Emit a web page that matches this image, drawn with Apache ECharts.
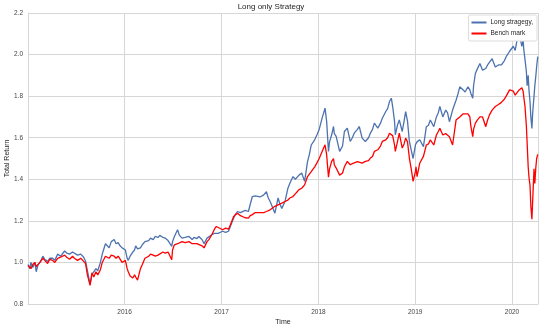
<!DOCTYPE html>
<html>
<head>
<meta charset="utf-8">
<script src="https://cdn.jsdelivr.net/npm/echarts@6/dist/echarts.min.js"></script>
<style>
  html, body { margin: 0; padding: 0; background: #fff; }
  #chart { width: 542px; height: 330px; }
</style>
</head>
<body>
<div id="chart"></div>
<script>
// Trading dates (sampled) shared by both return series
const dates = [
  '2015-01-02','2015-01-09','2015-01-13','2015-01-20','2015-01-28','2015-02-02','2015-02-09','2015-02-16','2015-02-27','2015-03-06',
  '2015-03-17','2015-03-25','2015-04-05','2015-04-13','2015-04-24','2015-05-05','2015-05-20','2015-05-28','2015-06-08','2015-06-19',
  '2015-06-26','2015-07-08','2015-07-20','2015-07-31','2015-08-07','2015-08-14','2015-08-24','2015-08-31','2015-09-07','2015-09-15',
  '2015-09-22','2015-10-02','2015-10-09','2015-10-21','2015-10-28','2015-11-04','2015-11-12','2015-11-23','2015-11-30','2015-12-08',
  '2015-12-15','2015-12-23',
  '2016-01-04','2016-01-11','2016-01-15','2016-01-22','2016-02-01','2016-02-08','2016-02-12','2016-02-19','2016-03-01','2016-03-08',
  '2016-03-18','2016-04-01','2016-04-08','2016-04-18','2016-04-26','2016-05-06','2016-05-13','2016-05-25','2016-06-02','2016-06-13',
  '2016-06-20','2016-06-27','2016-06-30','2016-07-07','2016-07-19','2016-07-26','2016-08-05','2016-08-16','2016-08-31','2016-09-12',
  '2016-09-19','2016-09-30','2016-10-07','2016-10-19','2016-10-27','2016-11-07','2016-11-14','2016-11-25','2016-12-05','2016-12-12',
  '2016-12-19',
  '2017-01-05','2017-01-16','2017-01-27','2017-02-03','2017-02-15','2017-02-22','2017-03-02','2017-03-13','2017-03-20','2017-03-31',
  '2017-04-12','2017-04-19','2017-04-27','2017-05-08','2017-05-15','2017-05-26','2017-06-02','2017-06-09','2017-06-19','2017-06-26',
  '2017-07-03','2017-07-10','2017-07-21','2017-07-28','2017-08-02','2017-08-09','2017-08-16','2017-08-28','2017-09-08','2017-09-15',
  '2017-09-27','2017-10-06','2017-10-13','2017-10-20','2017-10-30','2017-11-10','2017-11-21','2017-11-28','2017-12-05','2017-12-18',
  '2017-12-27',
  '2018-01-04','2018-01-15','2018-01-26','2018-02-01','2018-02-08','2018-02-12','2018-02-20','2018-02-27','2018-03-02','2018-03-09',
  '2018-03-22','2018-04-02','2018-04-09','2018-04-20','2018-05-01','2018-05-09','2018-05-16','2018-05-28','2018-06-04','2018-06-15',
  '2018-06-27','2018-07-09','2018-07-16','2018-07-24','2018-07-31','2018-08-13','2018-08-23','2018-08-30','2018-09-12','2018-09-19',
  '2018-09-26','2018-10-03','2018-10-08','2018-10-15','2018-10-18','2018-10-26','2018-11-02','2018-11-13','2018-11-20','2018-11-26',
  '2018-12-03','2018-12-10','2018-12-17','2018-12-24',
  '2019-01-02','2019-01-04','2019-01-08','2019-01-18','2019-02-01','2019-02-12','2019-02-20','2019-02-27','2019-03-12','2019-03-22',
  '2019-03-29','2019-04-04','2019-04-15','2019-04-26','2019-05-03','2019-05-10','2019-05-22','2019-06-04','2019-06-11','2019-06-18',
  '2019-07-01','2019-07-08','2019-07-19','2019-07-26','2019-07-30','2019-08-06','2019-08-09','2019-08-16','2019-08-23','2019-09-02',
  '2019-09-12','2019-09-24','2019-10-01','2019-10-08','2019-10-18','2019-10-30','2019-11-11','2019-11-22','2019-12-03','2019-12-10',
  '2019-12-23',
  '2020-01-06','2020-01-13','2020-01-20','2020-01-28','2020-02-04','2020-02-07','2020-02-12','2020-02-14','2020-02-19','2020-02-24',
  '2020-02-27','2020-03-02','2020-03-05','2020-03-09','2020-03-12','2020-03-16','2020-03-19','2020-03-24','2020-03-27','2020-03-31',
  '2020-04-03','2020-04-07'
];

// Cumulative total return of the long-only strategy
const strategy = [
  0.99,0.97,1.0,0.975,1.0,0.955,0.99,1.0,1.03,1.015,
  1.005,1.02,1.02,1.01,1.04,1.03,1.055,1.045,1.04,1.05,
  1.045,1.035,1.04,1.025,1.006,0.96,0.895,0.94,0.955,0.97,
  0.96,1.0,1.04,1.09,1.08,1.07,1.1,1.11,1.09,1.095,
  1.08,1.07,
  1.06,1.02,1.01,1.03,1.05,1.06,1.08,1.065,1.07,1.085,
  1.10,1.105,1.117,1.11,1.125,1.12,1.13,1.12,1.117,1.105,
  1.11,1.077,1.10,1.125,1.157,1.13,1.117,1.12,1.125,1.11,
  1.12,1.115,1.125,1.11,1.09,1.117,1.12,1.133,1.14,1.133,
  1.14,
  1.15,1.145,1.15,1.157,1.213,1.23,1.245,1.24,1.237,1.25,
  1.245,1.28,1.317,1.32,1.325,1.315,1.31,1.325,1.34,1.31,
  1.293,1.30,1.237,1.28,1.31,1.28,1.26,1.293,1.357,1.38,
  1.413,1.40,1.397,1.42,1.43,1.39,1.485,1.52,1.565,1.59,
  1.615,
  1.64,1.694,1.742,1.68,1.534,1.58,1.614,1.654,1.62,1.606,
  1.534,1.56,1.63,1.646,1.582,1.60,1.622,1.64,1.654,1.598,
  1.582,1.60,1.622,1.64,1.67,1.646,1.67,1.694,1.726,1.74,
  1.774,1.79,1.75,1.68,1.614,1.66,1.686,1.63,1.68,1.726,
  1.68,1.582,1.54,1.50,
  1.566,1.557,1.58,1.59,1.557,1.653,1.66,1.685,1.653,1.70,
  1.72,1.75,1.70,1.733,1.72,1.677,1.733,1.78,1.81,1.845,
  1.83,1.82,1.845,1.83,1.813,1.79,1.85,1.91,1.93,1.957,
  1.925,1.933,1.95,1.957,1.98,1.94,1.95,1.95,1.97,1.99,
  2.016,
  2.04,2.02,2.07,2.10,2.06,2.04,2.07,2.03,1.976,1.92,
  1.85,1.90,1.83,1.77,1.70,1.645,1.72,1.80,1.85,1.90,
  1.944,1.99
];

// Cumulative total return of the benchmark
const benchmark = [
  0.985,0.99,0.97,0.99,1.0,0.98,0.985,1.0,1.02,1.01,
  0.995,1.015,1.01,1.0,1.02,1.025,1.035,1.025,1.015,1.03,
  1.02,1.01,1.02,1.005,0.995,0.94,0.89,0.95,0.93,0.955,
  0.94,0.965,1.0,1.03,1.025,1.02,1.035,1.03,1.02,1.03,
  1.025,1.0,
  1.01,0.97,0.955,0.935,0.925,0.94,0.93,0.915,0.97,0.99,
  1.02,1.03,1.04,1.035,1.03,1.035,1.04,1.05,1.045,1.05,
  1.053,1.013,1.06,1.085,1.09,1.095,1.10,1.095,1.10,1.09,
  1.085,1.09,1.085,1.08,1.07,1.10,1.11,1.133,1.16,1.173,
  1.165,
  1.157,1.165,1.16,1.18,1.22,1.23,1.237,1.225,1.22,1.215,
  1.213,1.225,1.23,1.24,1.235,1.24,1.237,1.24,1.245,1.25,
  1.253,1.26,1.27,1.27,1.277,1.28,1.285,1.293,1.30,1.31,
  1.317,1.33,1.34,1.35,1.357,1.373,1.413,1.425,1.437,1.46,
  1.48,
  1.50,1.534,1.566,1.52,1.41,1.45,1.486,1.50,1.47,1.454,
  1.42,1.43,1.46,1.486,1.47,1.475,1.47,1.485,1.494,1.478,
  1.486,1.49,1.502,1.51,1.534,1.542,1.56,1.582,1.59,1.60,
  1.622,1.63,1.61,1.566,1.534,1.58,1.622,1.55,1.57,1.598,
  1.58,1.502,1.45,1.39,
  1.438,1.46,1.413,1.477,1.51,1.565,1.57,1.59,1.565,1.613,
  1.63,1.645,1.613,1.62,1.625,1.605,1.565,1.685,1.69,1.70,
  1.715,1.71,1.715,1.70,1.653,1.605,1.64,1.67,1.685,1.70,
  1.70,1.653,1.685,1.71,1.733,1.75,1.76,1.77,1.785,1.80,
  1.83,
  1.824,1.805,1.81,1.83,1.835,1.84,1.824,1.80,1.75,1.66,
  1.576,1.46,1.41,1.368,1.27,1.208,1.30,1.45,1.38,1.46,
  1.50,1.52
];

const yTicks = [0.8, 1.0, 1.2, 1.4, 1.6, 1.8, 2.0, 2.2];

const toPairs = vals => dates.map((d, i) => [d, vals[i]]);

const chart = echarts.init(document.getElementById('chart'), null, { renderer: 'canvas' });
const FONT = 'Liberation Sans, Arial, sans-serif';
const gridColor = '#d6d6d6';

chart.setOption({
  animation: false,
  backgroundColor: '#ffffff',
  title: {
    text: 'Long only Strategy',
    left: 'center',
    top: 3,
    padding: 0,
    textStyle: { fontFamily: FONT, fontSize: 8, fontWeight: 'normal', color: '#262626' }
  },
  legend: {
    data: ['Long stragegy,', 'Bench mark'],
    orient: 'vertical',
    right: 5,
    top: 15,
    itemWidth: 15,
    itemHeight: 2,
    itemGap: 4,
    padding: [4, 4, 4, 3],
    backgroundColor: '#ffffff',
    borderColor: '#dddddd',
    borderWidth: 1,
    borderRadius: 2,
    icon: 'rect',
    textStyle: { fontFamily: FONT, fontSize: 6.5, color: '#262626', padding: [0, 0, 0, -1] }
  },
  grid: { left: 28, right: 4, top: 13, bottom: 26, containLabel: false, outerBoundsMode: 'none' },
  xAxis: {
    type: 'time',
    min: '2015-01-02',
    max: '2020-04-08',
    name: 'Time',
    nameLocation: 'middle',
    nameGap: 15,
    nameMoveOverlap: false,
    nameTextStyle: { fontFamily: FONT, fontSize: 7, color: '#262626' },
    minInterval: 365 * 24 * 3600 * 1000,
    splitNumber: 6,
    axisLine: { show: true, lineStyle: { color: gridColor } },
    axisTick: { show: false },
    axisLabel: {
      formatter: '{yyyy}',
      fontFamily: FONT, fontSize: 6.5, color: '#444', margin: 5,
      showMinLabel: false, showMaxLabel: false
    },
    splitLine: { show: true, lineStyle: { color: gridColor, width: 1 } }
  },
  yAxis: {
    type: 'value',
    min: 0.8,
    max: 2.2,
    interval: 0.2,
    name: 'Total Return',
    nameLocation: 'middle',
    nameGap: 21,
    nameMoveOverlap: false,
    nameRotate: 90,
    nameTextStyle: { fontFamily: FONT, fontSize: 7, color: '#262626', verticalAlign: 'middle' },
    axisLine: { show: true, lineStyle: { color: gridColor } },
    axisTick: { show: false },
    axisLabel: {
      formatter: v => yTicks.includes(Math.round(v * 10) / 10) ? v.toFixed(1) : '',
      fontFamily: FONT, fontSize: 6.5, color: '#444', margin: 5
    },
    splitLine: { show: true, lineStyle: { color: gridColor, width: 1 } }
  },
  series: [
    {
      name: 'Long stragegy,',
      type: 'line',
      data: toPairs(strategy),
      showSymbol: false,
      lineStyle: { color: '#4c72b0', width: 1.3 },
      itemStyle: { color: '#4c72b0' },
      z: 3
    },
    {
      name: 'Bench mark',
      type: 'line',
      data: toPairs(benchmark),
      showSymbol: false,
      lineStyle: { color: '#ff0000', width: 1.3 },
      itemStyle: { color: '#ff0000' },
      z: 4
    }
  ]
});
</script>
</body>
</html>
